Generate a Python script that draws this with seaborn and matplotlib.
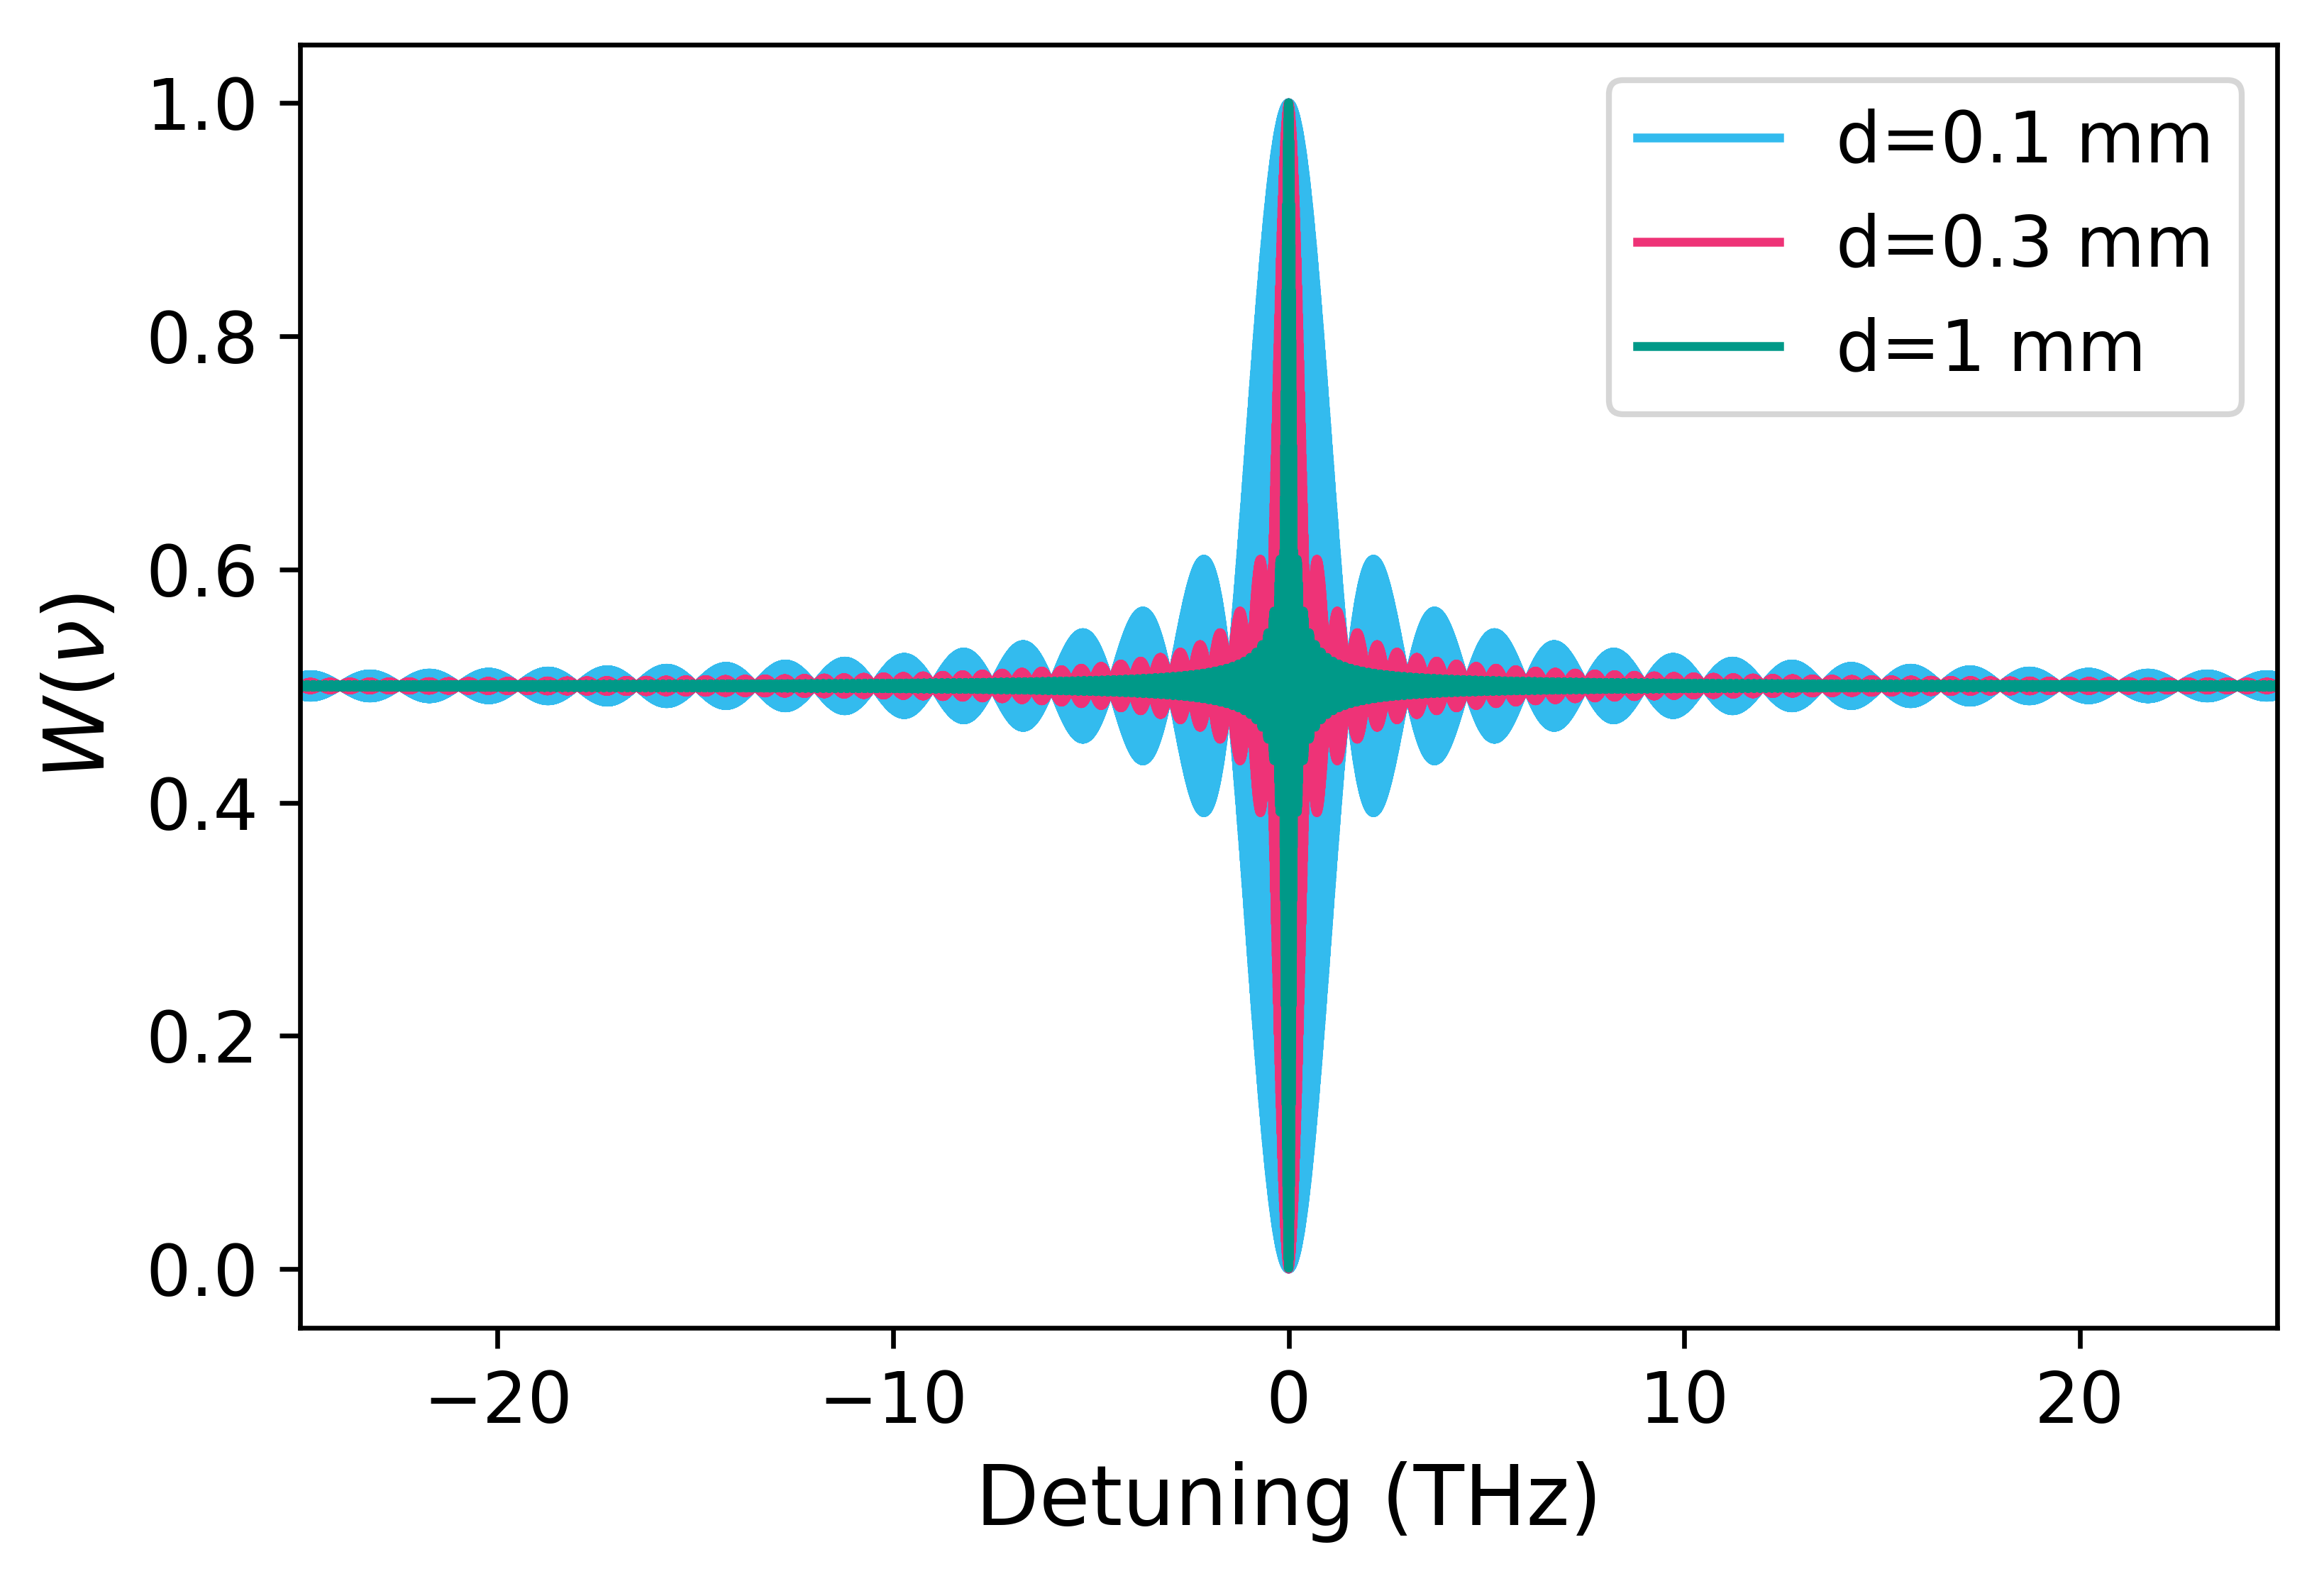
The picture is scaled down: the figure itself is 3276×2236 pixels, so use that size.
import numpy as np
import pandas as pd
import matplotlib
matplotlib.use("Agg")
import matplotlib.pyplot as plt
import seaborn as sns

# crystal thicknesses (mm) and plot colours
thickness_mm = [0.1, 0.3, 1.0]
labels = ["d=0.1 mm", "d=0.3 mm", "d=1 mm"]
colors = ["#33BBEE", "#EE3377", "#009988"]

# detuning range (THz), speed of light (mm/ps), carrier delay (ps)
nu_min, nu_max = -25.0, 25.0
c_mm_ps = 0.2998
delay_ps = 100.0

nu = np.linspace(nu_min, nu_max, 200001)

fig, ax = plt.subplots(figsize=(5.46, 3.7267), dpi=600)
fig.subplots_adjust(left=0.129, right=0.980, top=0.972, bottom=0.163)

for d, lab, col in zip(thickness_mm, labels, colors):
    # envelope sinc with zeros every c/(2d), fast carrier fills it in
    w = 0.5 + 0.5 * np.sinc(2 * d * nu / c_mm_ps) * np.cos(2 * np.pi * nu * delay_ps)
    df = pd.DataFrame({"nu": nu, "W": w})
    sns.lineplot(data=df, x="nu", y="W", color=col, label=lab, lw=1.5,
                 estimator=None, sort=False, ax=ax)

ax.set_xlim(nu_min, nu_max)
ax.set_ylim(-0.05, 1.05)
ax.set_xticks([-20, -10, 0, 10, 20])
ax.set_yticks([0.0, 0.2, 0.4, 0.6, 0.8, 1.0])
ax.tick_params(labelsize=12)
ax.set_xlabel("Detuning (THz)", fontsize=14)
ax.set_ylabel(r"$W(\nu)$", fontsize=14)
ax.legend(loc="upper right", fontsize=12)

plt.savefig("out.png", dpi=600)
